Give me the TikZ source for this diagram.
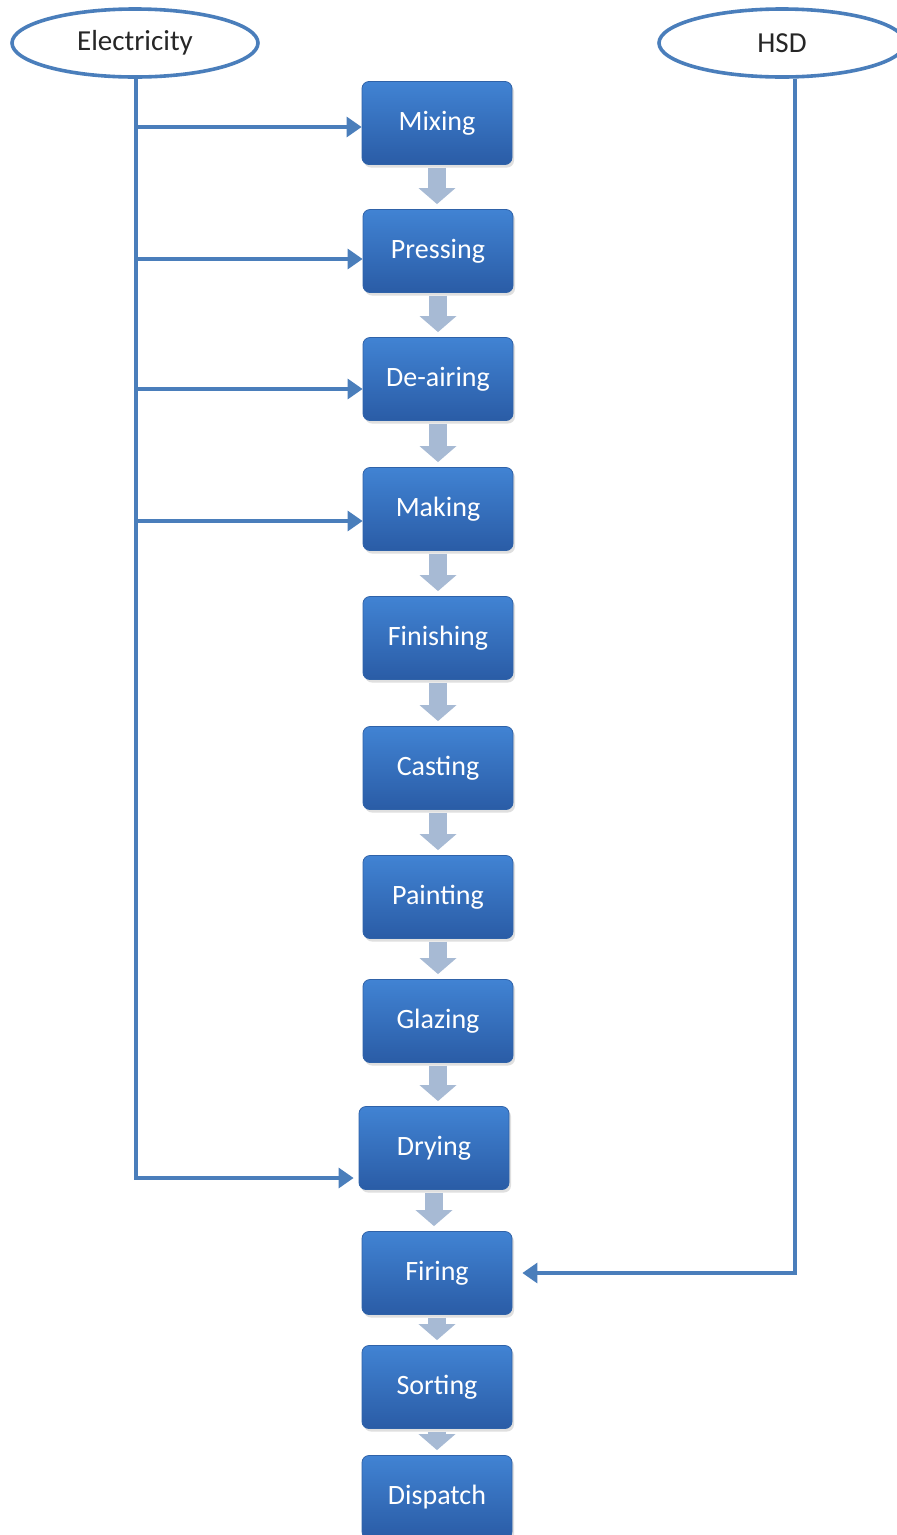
\documentclass[tikz,border=0pt]{standalone}
\usepackage{fontspec}
\setmainfont{Carlito}
\usetikzlibrary{arrows.meta,shadows,shapes.geometric}
\definecolor{lineblue}{HTML}{4A7EBB}
\definecolor{boxtop}{HTML}{4183D3}
\definecolor{boxbot}{HTML}{2A5CA6}
\definecolor{boxedge}{HTML}{2F62A8}
\definecolor{grayarrow}{HTML}{A7BAD4}
\tikzset{
  srcell/.style={ellipse, draw=lineblue, line width=3.6pt, fill=white,
    minimum width=246pt, minimum height=68pt, inner sep=0pt,
    font=\fontsize{29}{32}\selectfont, text=black!85},
  stagebox/.style={rectangle, rounded corners=7pt, draw=boxedge, line width=0.8pt,
    top color=boxtop, bottom color=boxbot,
    minimum width=150pt, minimum height=83pt, inner sep=0pt,
    font=\fontsize{28}{30}\selectfont, text=white,
    drop shadow={opacity=0.25, shadow xshift=2pt, shadow yshift=-3pt}},
  conn/.style={draw=lineblue, line width=3.2pt,
    -{Triangle[length=15pt,width=20pt]}},
  flow/.style={draw=grayarrow, line width=18pt,
    -{Triangle[length=16pt,width=36pt]}, shorten <=3pt, shorten >=5pt},
}
\begin{document}
\begin{tikzpicture}[x=1pt,y=-1pt]
\useasboundingbox (0,0) rectangle (897,1535);
\fill[white] (0,0) rectangle (897,1535);

\node[srcell] (elec) at (135,43) {Electricity};
\node[srcell] (hsd) at (782,43) {HSD};

\node[stagebox] (mix)  at (437,123)  {Mixing};
\node[stagebox] (pre)  at (438,251)  {Pressing};
\node[stagebox] (dea)  at (438,379)  {De-airing};
\node[stagebox] (mak)  at (438,509)  {Making};
\node[stagebox] (fin)  at (438,638)  {Finishing};
\node[stagebox] (cas)  at (438,768)  {Casting};
\node[stagebox] (pai)  at (438,897)  {Painting};
\node[stagebox] (gla)  at (438,1021) {Glazing};
\node[stagebox] (dry)  at (434,1148) {Drying};
\node[stagebox] (fir)  at (437,1273) {Firing};
\node[stagebox] (sor)  at (437,1387) {Sorting};
\node[stagebox] (dis)  at (437,1497) {Dispatch};

% process flow arrows
\draw[flow] (mix.south) -- (mix.south |- pre.north);
\draw[flow] (pre.south) -- (dea.north);
\draw[flow] (dea.south) -- (mak.north);
\draw[flow] (mak.south) -- (fin.north);
\draw[flow] (fin.south) -- (cas.north);
\draw[flow] (cas.south) -- (pai.north);
\draw[flow] (pai.south) -- (gla.north);
\draw[flow] (gla.south) -- (gla.south |- dry.north);
\draw[flow] (dry.south) -- (dry.south |- fir.north);
\draw[flow] (fir.south) -- (sor.north);
\draw[flow] (sor.south) -- (dis.north);

% electricity supply
\draw[conn] ([xshift=1pt]elec.south) |- ([yshift=-4pt]mix.west);
\draw[conn] ([xshift=1pt]elec.south) |- ([yshift=-8pt]pre.west);
\draw[conn] ([xshift=1pt]elec.south) |- ([yshift=-10pt]dea.west);
\draw[conn] ([xshift=1pt]elec.south) |- ([yshift=-12pt]mak.west);
\draw[conn] ([xshift=1pt]elec.south) |- ([xshift=-5pt,yshift=-30pt]dry.west);

% HSD supply
\draw[conn] ([xshift=13pt]hsd.south) |- ([xshift=10pt]fir.east);
\end{tikzpicture}
\end{document}
